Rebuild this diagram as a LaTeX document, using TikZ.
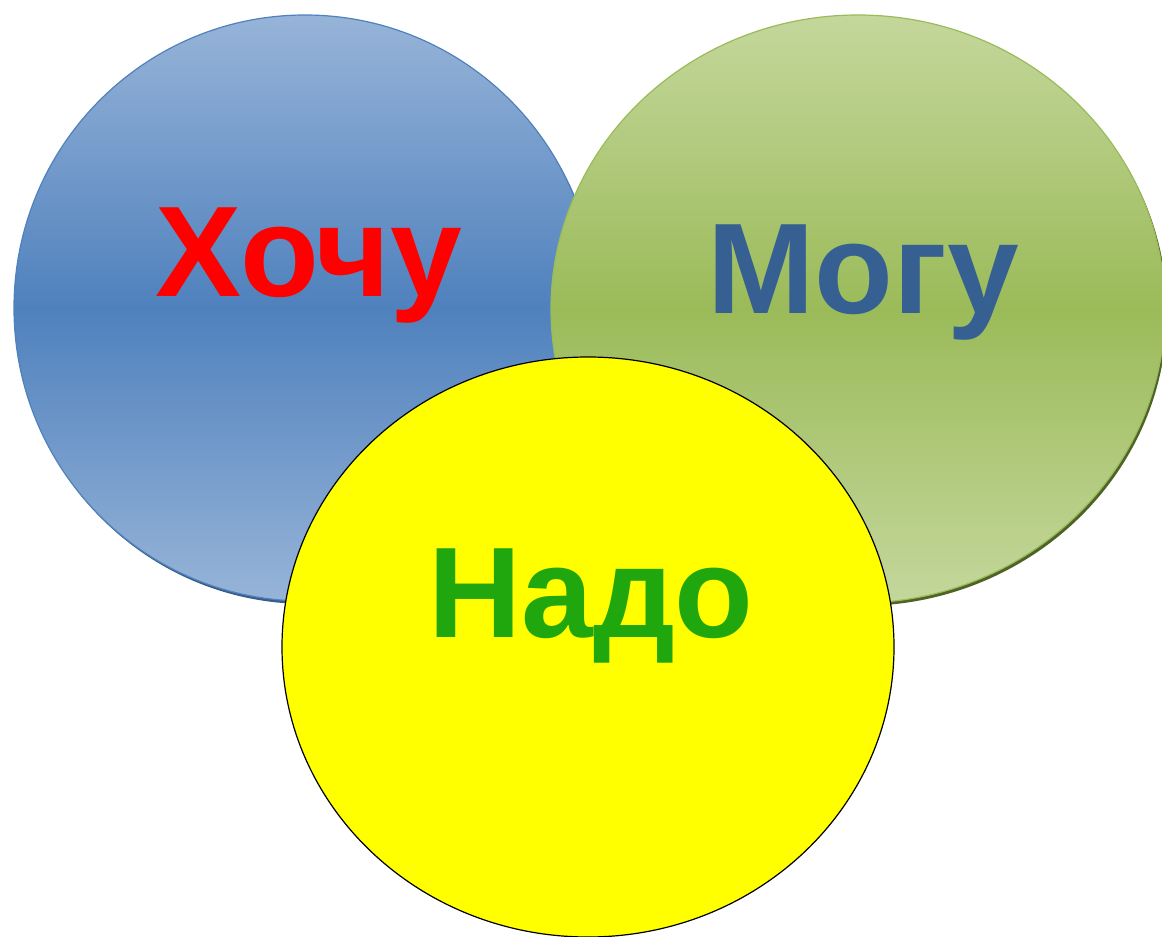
\documentclass[tikz,border=0pt]{standalone}
\usepackage{fontspec}
\setmainfont{Liberation Sans}
\usetikzlibrary{shapes.geometric}
\definecolor{bluelight}{HTML}{97B4D8}
\definecolor{bluedark}{HTML}{4F81BD}
\definecolor{blueshadow}{HTML}{385D8A}
\definecolor{greenlight}{HTML}{C4D79C}
\definecolor{greendark}{HTML}{9BBB59}
\definecolor{greenshadow}{HTML}{4F6228}
\definecolor{mogutext}{HTML}{376092}
\definecolor{nadotext}{HTML}{20A70E}
\definecolor{pureyellow}{RGB}{255,255,0}
\definecolor{purered}{RGB}{255,0,0}
\tikzset{
  bubble/.style={ellipse, inner sep=0pt, outer sep=0pt},
  word/.style={anchor=base, inner sep=0pt, font=\fontsize{129}{132}\selectfont\bfseries}
}
\begin{document}
\begin{tikzpicture}[x=1pt,y=-1pt]
\useasboundingbox (0,0) rectangle (1162,937);
\clip (0,0) rectangle (1162,937);
% blue
\node[bubble, fill=blueshadow, minimum width=582pt, minimum height=586pt] (bs) at (307,311) {};
\node[bubble, draw=bluedark, line width=1.2pt, top color=bluelight, bottom color=bluelight, middle color=bluedark, minimum width=582pt, minimum height=586pt] (blue) at (305,308) {};
% green
\node[bubble, fill=greenshadow, minimum width=614pt, minimum height=588pt] (gs) at (860,312) {};
\node[bubble, draw=greendark, line width=1.2pt, top color=greenlight, bottom color=greenlight, middle color=greendark, minimum width=614pt, minimum height=588pt] (green) at (858,309) {};
% yellow
\node[bubble, draw=black, line width=1.2pt, fill=pureyellow, minimum width=612pt, minimum height=580pt] (yellowc) at (588,647) {};
% words
\node[word, text=purered] (hochu) at (309,296) {Хочу};
\node[word, text=mogutext] (mogu) at (863,313) {Могу};
\node[word, text=nadotext] (nado) at (591,637) {Надо};
\end{tikzpicture}
\end{document}
